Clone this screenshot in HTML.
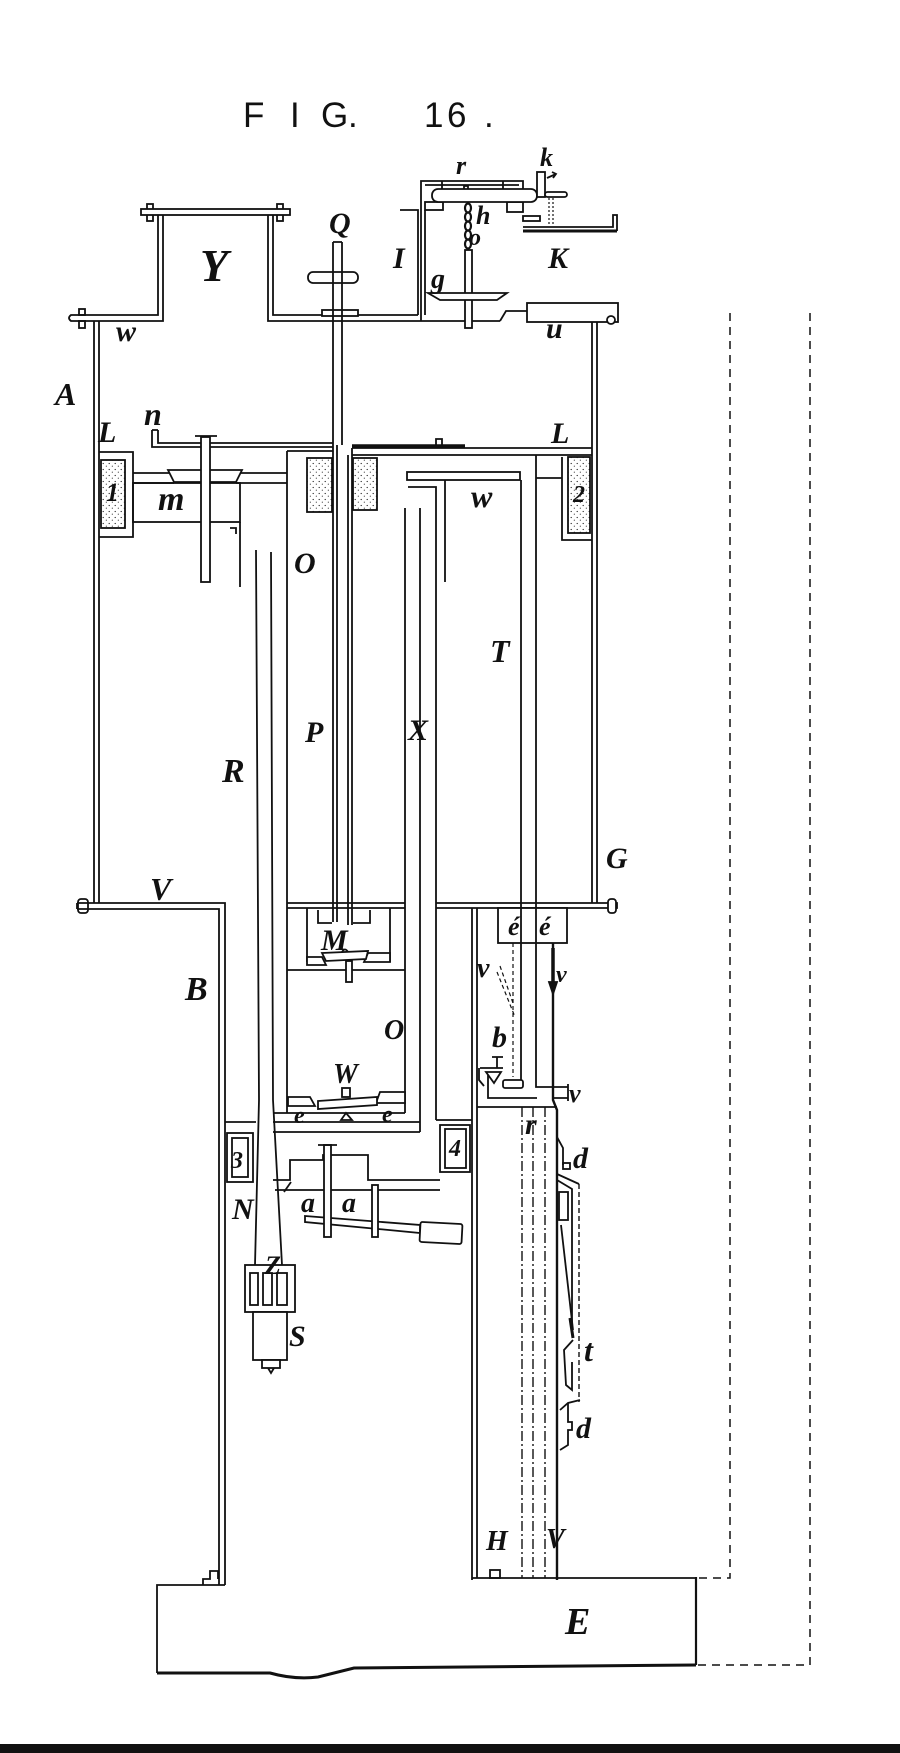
<!DOCTYPE html>
<html><head><meta charset="utf-8"><style>
html,body{margin:0;padding:0;background:#fff;}
svg{display:block;}
.l{font-family:"Liberation Serif",serif;font-style:italic;font-weight:bold;fill:#111;stroke:none;}
.t{font-family:"Liberation Sans",sans-serif;fill:#111;stroke:none;}
</style></head><body>
<svg width="900" height="1753" viewBox="0 0 900 1753" xmlns="http://www.w3.org/2000/svg">
<defs>
<pattern id="dt" width="6" height="6" patternUnits="userSpaceOnUse">
<circle cx="1.2" cy="1.5" r="0.65" fill="#222"/><circle cx="4.3" cy="4.2" r="0.55" fill="#222"/>
</pattern>
</defs>
<rect width="900" height="1753" fill="#fff"/>

<g class="t" font-size="35">
<text x="243" y="127">F</text>
<text x="290" y="127">I</text>
<text x="321" y="127">G</text>
<text x="348" y="127">.</text>
<text x="424" y="127">1</text>
<text x="447" y="127">6</text>
<text x="484" y="127">.</text>
</g>

<g fill="none" stroke="#111" stroke-width="1.8">
<!-- Y hood -->
<rect x="147" y="204" width="6" height="17"/>
<rect x="277" y="204" width="6" height="17"/>
<rect x="141" y="209" width="149" height="6" fill="#fff"/>
<rect x="79" y="309" width="6" height="6"/>
<rect x="79" y="321" width="6" height="7"/>
<path d="M158,215 V315 H71 Q67,318 71,321 H163 V215"/>
<path d="M273,215 V315 H418"/>
<path d="M268,215 V321 H500"/>
<!-- A walls -->
<path d="M94,321 V903 M99,321 V903"/>
<path d="M592,322 V903 M597,322 V903"/>
<!-- Q rod -->
<rect x="308" y="272" width="50" height="11" rx="5" fill="#fff"/>
<rect x="322" y="310" width="36" height="6" fill="#fff"/>
<path d="M333,242 V445 M342,242 V445 M333,242 H342"/>
<!-- I frame -->
<path d="M400,210 H418 V315"/>
<path d="M421,321 V181 H523 V203"/>
<path d="M425,185 H519 M425,210 V315"/>
<line x1="442" y1="181" x2="442" y2="189"/>
<line x1="503" y1="181" x2="503" y2="189"/>
<rect x="425" y="202" width="18" height="8"/>
<rect x="507" y="202" width="16" height="10"/>
<rect x="432" y="189" width="105" height="13" rx="6" fill="#fff"/>
<path d="M464,189 V186 H468 V189"/>
<!-- chain -->
<g stroke-width="2.2" fill="#fff">
<ellipse cx="468" cy="208" rx="3" ry="4.5"/>
<ellipse cx="468" cy="217" rx="3" ry="4.5"/>
<ellipse cx="468" cy="226" rx="3" ry="4.5"/>
<ellipse cx="468" cy="235" rx="3" ry="4.5"/>
<ellipse cx="468" cy="244" rx="3" ry="4.5"/>
</g>
<rect x="465" y="250" width="7" height="78" fill="#fff"/>
<polygon points="428,293 507,293 497,300 440,300" fill="#fff"/>
<!-- k -->
<rect x="537" y="172" width="8" height="25" fill="#fff"/>
<path d="M547,178 L556,174 M552,172 L556,174 L553,178"/>
<rect x="545" y="192" width="22" height="5" rx="2.5" fill="#fff"/>
<!-- K -->
<path d="M523,227 H613 V215 H617 V231"/>
<line x1="523" y1="231" x2="617" y2="231" stroke-width="3"/>
<rect x="523" y="216" width="17" height="5"/>
<path d="M549,198 V226 M553,198 V226" stroke-dasharray="2,2" stroke-width="1.2"/>
<!-- u -->
<path d="M500,321 L506,311 H527"/>
<rect x="527" y="303" width="91" height="19" fill="#fff"/>
<circle cx="611" cy="320" r="4" fill="#fff"/>

<!-- L plate & n -->
<path d="M152,430 H158 M152,430 V447 H333 M158,430 V443 H333"/>
<path d="M352,448 H592 M352,455 H592"/>
<path d="M352,446 H465" stroke-width="3.5"/>
<path d="M436,446 V439 H442 V446"/>
<!-- O top & wall -->
<path d="M287,451 H333 M287,451 V1113"/>
<!-- P -->
<path d="M333,445 V922 M337,445 V922 M348,455 V925 M352,448 V925"/>
<rect x="307" y="458" width="25" height="54" fill="url(#dt)"/>
<rect x="353" y="458" width="24" height="52" fill="url(#dt)"/>
<!-- block 1 -->
<path d="M99,452 H133 V537 H99"/>
<rect x="101" y="460" width="24" height="68" fill="url(#dt)"/>
<!-- block 2 -->
<path d="M562,457 V540 H592 M536,478 H562"/>
<rect x="568" y="457" width="22" height="76" fill="url(#dt)"/>
<!-- m piston -->
<path d="M133,473 H170 M133,483 H174 M240,473 H287 M236,483 H287"/>
<polygon points="168,470 242,470 236,482 174,482" fill="#fff"/>
<rect x="133" y="483" width="107" height="39"/>
<path d="M240,522 V587"/>
<rect x="201" y="437" width="9" height="145" fill="#fff"/>
<path d="M195,436 H217"/>
<path d="M230,528 H236 V534"/>
<!-- R pipe -->
<path d="M256,550 L259,1100 L255,1265 M271,552 L273,1100 L282,1265"/>
<!-- w / X / T -->
<rect x="407" y="472" width="113" height="8" fill="#fff"/>
<path d="M405,508 V1113 M420,508 V1132 M408,487 H436 V1120 M445,480 V582"/>
<path d="M521,480 V1080 M536,455 V1087 H553"/>

<!-- A bottom -->
<rect x="78" y="899" width="10" height="14" rx="3" fill="#fff"/>
<path d="M77,903 H225 V1585 M77,909 H219 V1585 M77,903 V909"/>
<path d="M287,903 H405 M287,908 H405 M436,903 H617 V908 H436"/>
<rect x="608" y="899" width="8" height="14" rx="3" fill="#fff"/>
<!-- M chamber -->
<path d="M307,908 V962 M390,908 V962 M287,970 H405"/>
<path d="M318,910 V923 H332 M353,923 H370 V910"/>
<polygon points="307,957 322,957 326,965 307,965" fill="#fff"/>
<polygon points="368,953 390,953 390,962 364,962" fill="#fff"/>
<polygon points="322,953 368,951 366,959 326,961" fill="#fff"/>
<rect x="346" y="961" width="6" height="21" fill="#fff"/>
<path d="M342,952 Q345,947 348,952"/>
<!-- W valve -->
<polygon points="288,1097 310,1097 315,1106 288,1106" fill="#fff"/>
<polygon points="380,1092 405,1092 405,1103 376,1103" fill="#fff"/>
<polygon points="318,1101 377,1097 377,1105 318,1109" fill="#fff"/>
<rect x="342" y="1088" width="8" height="9" fill="#fff"/>
<polygon points="341,1120 346,1113 352,1120" fill="#fff"/>
<path d="M273,1113 H405 M273,1122 H420 M273,1132 H420"/>
<path d="M225,1122 H256 M436,1120 H472"/>
<!-- blocks 3 & 4 -->
<rect x="227" y="1133" width="26" height="49"/>
<rect x="232" y="1138" width="16" height="39"/>
<rect x="440" y="1125" width="30" height="47"/>
<rect x="445" y="1129" width="21" height="39"/>
<!-- N pipe & a valve -->
<path d="M273,1180 H290 V1160 H323 V1155 H368 V1180 H440 M275,1190 H440"/>
<path d="M284,1192 L291,1182"/>
<polygon points="305,1216 420,1225 420,1233 305,1222" fill="#fff"/>
<rect x="420" y="1223" width="42" height="20" rx="2" transform="rotate(3 441 1233)" fill="#fff"/>
<rect x="324" y="1145" width="7" height="92" fill="#fff"/>
<path d="M318,1145 H337"/>
<rect x="372" y="1185" width="6" height="52" fill="#fff"/>
<!-- Z & S -->
<rect x="245" y="1265" width="50" height="47" fill="#fff"/>
<rect x="250" y="1273" width="8" height="32"/>
<rect x="263" y="1273" width="9" height="32"/>
<rect x="277" y="1273" width="10" height="32"/>
<rect x="253" y="1312" width="34" height="48" fill="#fff"/>
<rect x="262" y="1360" width="18" height="8" fill="#fff"/>
<path d="M268,1368 L271,1373 L274,1368"/>

<!-- H column -->
<path d="M472,908 V1580 M477,908 V1578"/>
<rect x="498" y="908" width="69" height="35" fill="#fff"/>
<path d="M521,908 V943 M536,908 V943"/>
<path d="M553,943 V1100 L557,1110 V1580" stroke-width="2.4"/>
<path d="M553,948 V986" stroke-width="3.5"/>
<polygon points="549,982 557,982 553,994" fill="#111"/>
<path d="M513,943 V1077" stroke-dasharray="4,3" stroke-width="1.2"/>
<path d="M497,972 L515,1017 M500,966 L513,1003" stroke-dasharray="4,3" stroke-width="1.2"/>
<!-- b valve -->
<path d="M492,1057 H503 M497,1057 V1068 M480,1068 H503"/>
<polygon points="486,1072 501,1072 494,1083" fill="#fff"/>
<path d="M479,1068 V1080 L484,1086"/>
<rect x="503" y="1080" width="20" height="8" rx="2" fill="#fff"/>
<path d="M488,1075 V1098 H537"/>
<path d="M477,1107 H557"/>
<path d="M553,1087 H568 M553,1098 H568 M568,1084 V1101"/>
<!-- r tube -->
<path d="M522,1107 V1578 M533,1107 V1578 M545,1107 V1578" stroke-dasharray="10,3,2,3" stroke-width="1.4"/>
<!-- d / t mechanism -->
<path d="M557,1137 L563,1148 V1165"/>
<rect x="563" y="1163" width="7" height="6"/>
<path d="M557,1174 L579,1184"/>
<path d="M579,1184 V1402" stroke-dasharray="5,3" stroke-width="1.4"/>
<path d="M557,1180 L572,1189 V1330"/>
<rect x="559" y="1192" width="9" height="28"/>
<path d="M561,1225 L573,1330"/>
<path d="M570,1318 L573,1338" stroke-width="3"/>
<path d="M573,1340 L564,1350 L566,1385 L572,1390 V1362"/>
<path d="M560,1410 L568,1403 L580,1400"/>
<path d="M568,1403 V1422 H572 V1430 H568 V1445 L560,1450"/>

<!-- bottom & E -->
<path d="M472,1578 H696"/>
<path d="M696,1577 V1665" stroke-width="2.2"/>
<rect x="490" y="1570" width="10" height="8"/>
<path d="M225,1585 H157 V1673"/>
<path d="M203,1585 V1579 H210 V1571 H218 V1579"/>
<path d="M157,1673 L270,1673 Q295,1680 318,1677 L354,1668 L696,1665" stroke-width="3"/>
<!-- dashed outlines -->
<path d="M730,313 V1578 H697" stroke-dasharray="8,6" stroke-width="1.5"/>
<path d="M810,313 V1665 H697" stroke-dasharray="8,6" stroke-width="1.5"/>
</g>
<rect x="0" y="1744" width="900" height="9" fill="#111"/>

<!-- labels -->
<g class="l">
<text x="540" y="166" font-size="26">k</text>
<text x="456" y="174" font-size="26">r</text>
<text x="329" y="233" font-size="30">Q</text>
<text x="200" y="281" font-size="46">Y</text>
<text x="393" y="268" font-size="30">I</text>
<text x="548" y="268" font-size="30">K</text>
<text x="476" y="224" font-size="26">h</text>
<text x="469" y="245" font-size="24">o</text>
<text x="431" y="288" font-size="28">g</text>
<text x="116" y="341" font-size="30">w</text>
<text x="546" y="338" font-size="30">u</text>
<text x="55" y="405" font-size="32">A</text>
<text x="144" y="425" font-size="32">n</text>
<text x="98" y="442" font-size="30">L</text>
<text x="551" y="443" font-size="30">L</text>
<text x="158" y="510" font-size="34">m</text>
<text x="106" y="501" font-size="26">1</text>
<text x="573" y="502" font-size="24">2</text>
<text x="294" y="573" font-size="30">O</text>
<text x="471" y="507" font-size="32">w</text>
<text x="490" y="662" font-size="32">T</text>
<text x="305" y="742" font-size="30">P</text>
<text x="408" y="740" font-size="30">X</text>
<text x="222" y="782" font-size="34">R</text>
<text x="606" y="868" font-size="30">G</text>
<text x="150" y="900" font-size="32">V</text>
<text x="321" y="950" font-size="30">M</text>
<text x="508" y="935" font-size="26">é</text>
<text x="539" y="935" font-size="26">é</text>
<text x="185" y="1000" font-size="34">B</text>
<text x="477" y="977" font-size="28">v</text>
<text x="556" y="982" font-size="24">v</text>
<text x="384" y="1039" font-size="28">O</text>
<text x="492" y="1047" font-size="30">b</text>
<text x="333" y="1083" font-size="28">W</text>
<text x="294" y="1123" font-size="24">e</text>
<text x="382" y="1122" font-size="24">e</text>
<text x="569" y="1102" font-size="26">v</text>
<text x="525" y="1134" font-size="30">r</text>
<text x="573" y="1168" font-size="30">d</text>
<text x="231" y="1168" font-size="24">3</text>
<text x="449" y="1156" font-size="24">4</text>
<text x="232" y="1219" font-size="30">N</text>
<text x="301" y="1212" font-size="28">a</text>
<text x="342" y="1212" font-size="28">a</text>
<text x="265" y="1274" font-size="26">Z</text>
<text x="289" y="1346" font-size="30">S</text>
<text x="584" y="1361" font-size="32">t</text>
<text x="576" y="1438" font-size="30">d</text>
<text x="486" y="1550" font-size="28">H</text>
<text x="546" y="1548" font-size="28">V</text>
<text x="565" y="1634" font-size="38">E</text>
</g>
</svg>
</body></html>
